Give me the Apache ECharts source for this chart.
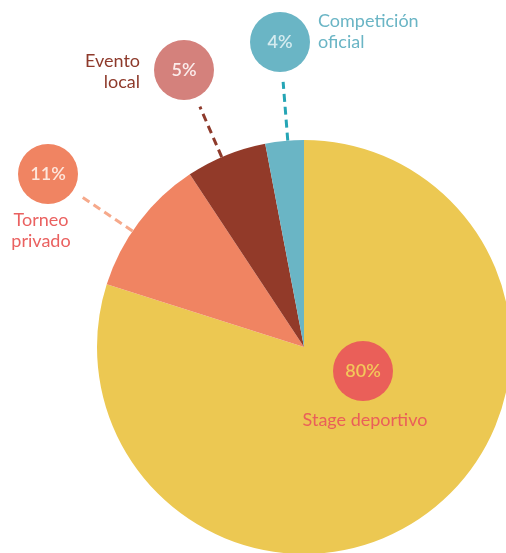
<!DOCTYPE html>
<html>
<head>
<meta charset="utf-8">
<script src="https://cdn.jsdelivr.net/npm/echarts@6/dist/echarts.min.js"></script>
<style>
html,body{margin:0;padding:0;background:#fff}
#main{width:506px;height:553px}
</style>
</head>
<body>
<div id="main"></div>
<script>
// slices as drawn (clockwise from top)
var names = ['Stage deportivo', 'Torneo privado', 'Evento local', 'Competición oficial'];
var nameLines = ['Stage deportivo', 'Torneo\nprivado', 'Evento\nlocal', 'Competición\noficial'];
var shares = [79.9, 10.8, 6.3, 3.0];
var percentLabels = ['80%', '11%', '5%', '4%'];

// styles
var sliceColors = ['#ecc852', '#f08462', '#923a29', '#6ab5c5'];
var badgeColors = ['#ea5f59', '#f08462', '#d4817c', '#6ab5c5'];
var badgeTextColors = ['#f3c75a', '#fde6dc', '#fbeceb', '#d4ebef'];
var nameColors = ['#ea5f59', '#ea6160', '#8e3a2b', '#6ab5c5'];
var lineColors = ['#ea5f59', '#f6a98b', '#8e3a2b', '#25a5b5'];

// label layout (px)
var CX = 304, CY = 347, R = 207;
var badgeAt = [[363, 371], [48, 174], [184, 70], [280, 42]];
var nameAt = [[365, 420, 'center', 'middle'], [41, 210, 'center', 'top'], [140, 51, 'right', 'top'], [318, 11, 'left', 'top']];

var FONT = 'Lato, "Noto Sans", sans-serif';

var myChart = echarts.init(document.getElementById('main'));

var badgeData = names.map(function (n, i) {
    return {
        name: n,
        value: shares[i],
        itemStyle: {color: sliceColors[i]},
        label: {
            formatter: '{b|' + percentLabels[i] + '}',
            rich: {
                b: {
                    width: 60, height: 60, lineHeight: 60,
                    borderRadius: 30,
                    align: 'center',
                    backgroundColor: badgeColors[i],
                    color: badgeTextColors[i],
                    fontFamily: FONT,
                    fontWeight: 600,
                    fontSize: 18
                }
            }
        },
        labelLine: {show: i > 0, lineStyle: {color: lineColors[i], width: 3, type: [8, 5]}}
    };
});

var nameData = names.map(function (n, i) {
    return {
        name: n,
        value: shares[i],
        label: {formatter: nameLines[i], color: nameColors[i]}
    };
});

var option = {
    animation: false,
    series: [{
        type: 'pie',
        center: [CX, CY],
        radius: R,
        startAngle: 90,
        clockwise: true,
        avoidLabelOverlap: false,
        silent: true,
        itemStyle: {borderWidth: 0},
        label: {show: true, position: 'outside'},
        labelLine: {
            show: true,
            length: 20, length2: 0,
            lineStyle: {width: 3, type: [8, 5]}
        },
        labelLayout: function (p) {
            var b = badgeAt[p.dataIndex];
            var out = {x: b[0], y: b[1], align: 'center', verticalAlign: 'middle'};
            if (p.dataIndex > 0) {
                var dx = CX - b[0], dy = CY - b[1];
                var d = Math.sqrt(dx * dx + dy * dy);
                var ux = dx / d, uy = dy / d;
                var s = [CX - ux * R, CY - uy * R];
                var e = [b[0] + ux * 40, b[1] + uy * 40];
                out.labelLinePoints = [s, e, e];
            }
            return out;
        },
        data: badgeData
    }, {
        type: 'pie',
        center: [CX, CY],
        radius: R,
        startAngle: 90,
        clockwise: true,
        avoidLabelOverlap: false,
        silent: true,
        itemStyle: {color: 'rgba(0,0,0,0)', borderWidth: 0},
        label: {show: true, position: 'outside', fontFamily: FONT, fontSize: 18, lineHeight: 21},
        labelLine: {show: false},
        labelLayout: function (p) {
            var a = nameAt[p.dataIndex];
            return {x: a[0], y: a[1], align: a[2], verticalAlign: a[3]};
        },
        data: nameData
    }]
};
myChart.setOption(option);
</script>
</body>
</html>
